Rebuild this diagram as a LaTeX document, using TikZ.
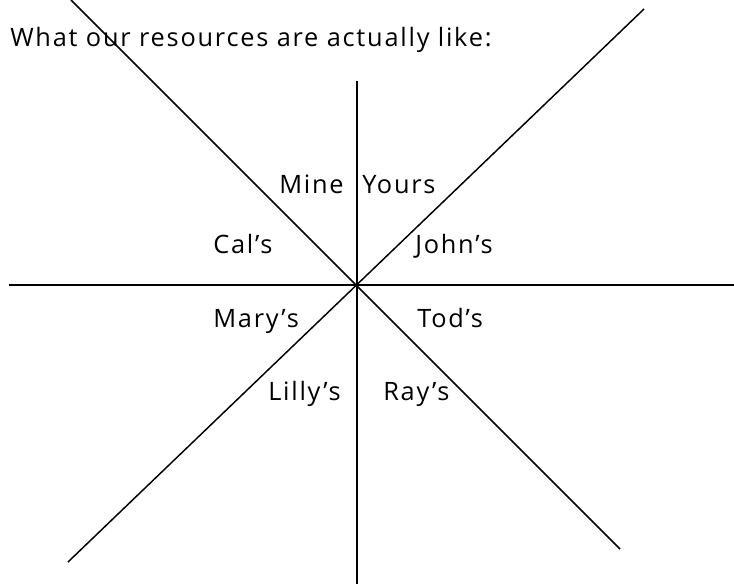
\documentclass[tikz,border=0pt]{standalone}
\usepackage{fontspec}
\setmainfont[LetterSpace=7]{Open Sans}
\begin{document}
\begin{tikzpicture}[x=0.75pt, y=-0.75pt,
  lbl/.style={anchor=base west, inner sep=0pt, font=\fontsize{19}{23}\selectfont},
  axis/.style={line width=2pt},
  diag/.style={line width=1.1pt}]
\useasboundingbox (0,0) rectangle (734,584);
\node[lbl] (title) at (10,47) {What our resources are actually like:};

\coordinate (mid) at (357,285);
\coordinate (top) at (357,81);
\coordinate (bottom) at (357,584);
\coordinate (left) at (9,285);
\coordinate (right) at (734,285);
\coordinate (nw) at (71,0);
\coordinate (se) at (620,549);
\coordinate (ne) at (644,9);
\coordinate (sw) at (68,562);

\draw[axis] (top) -- (bottom);
\draw[axis] (left) -- (right);
\draw[diag] (nw) -- (se);
\draw[diag] (sw) -- (ne);

\node[lbl] (mine) at (279,194) {Mine};
\node[lbl] (yours) at (362,194) {Yours};
\node[lbl] (cal) at (213,253) {Cal’s};
\node[lbl] (john) at (415,253) {John’s};
\node[lbl] (mary) at (213,327) {Mary’s};
\node[lbl] (tod) at (417,327) {Tod’s};
\node[lbl] (lilly) at (268,400) {Lilly’s};
\node[lbl] (ray) at (383,400) {Ray’s};
\end{tikzpicture}
\end{document}
